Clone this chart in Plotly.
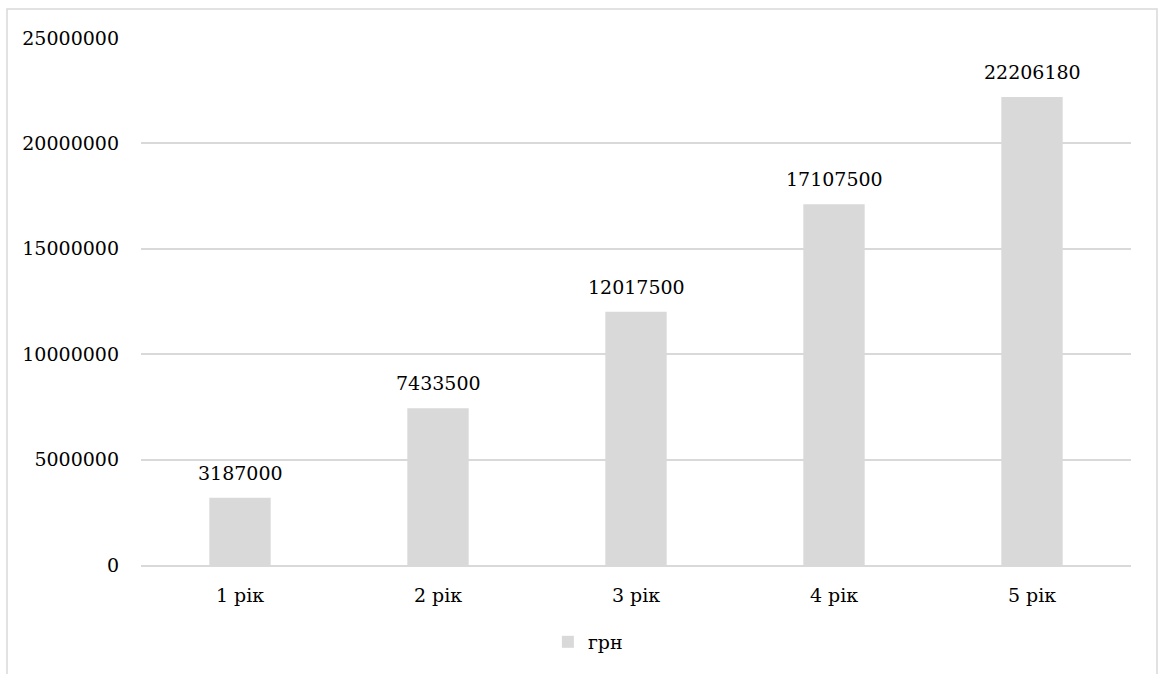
import plotly.graph_objects as go

categories = ["1 рік", "2 рік", "3 рік", "4 рік", "5 рік"]
values = [3187000, 7433500, 12017500, 17107500, 22206180]
series_name = "грн"
y_ticks = [0, 5000000, 10000000, 15000000, 20000000, 25000000]

FONT = "DejaVu Serif"
BAR = "#d9d9d9"
GRID = "#d9d9d9"
FS = 19

fig = go.Figure()
fig.add_trace(go.Bar(
    x=categories, y=values, name=series_name,
    marker=dict(color=BAR, line=dict(width=0)),
    width=0.31,
    showlegend=True,
))

for c, v in zip(categories, values):
    fig.add_annotation(
        x=c, y=v, text=str(v), showarrow=False,
        yanchor="bottom", yshift=12,
        font=dict(family=FONT, size=FS, color="#000000"),
    )

# outer chart frame
fig.add_shape(type="rect", xref="paper", yref="paper",
              x0=-134 / 990, x1=1016 / 990, y0=-130 / 527, y1=(527 + 29) / 527,
              line=dict(color="#d9d9d9", width=1.5), layer="below")

fig.update_layout(
    width=1163, height=674,
    margin=dict(l=141, r=32, t=38, b=109, autoexpand=False),
    paper_bgcolor="white", plot_bgcolor="white",
    font=dict(family=FONT, size=FS, color="#000000"),
    bargap=0.69,
    xaxis=dict(showgrid=False, showline=True, linecolor=GRID, linewidth=1.5,
               automargin=False,
               ticks="", ticklabelstandoff=12, tickfont=dict(family=FONT, size=FS)),
    yaxis=dict(range=[0, 25000000], tickvals=y_ticks,
               ticktext=[str(t) for t in y_ticks], automargin=False,
               showgrid=True, gridcolor=GRID, gridwidth=1.5,
               zeroline=False, showline=False, ticks="",
               ticklabelstandoff=21, tickfont=dict(family=FONT, size=FS)),
    legend=dict(orientation="h", x=0.411, xanchor="left", y=-0.11, yanchor="top",
                font=dict(family=FONT, size=FS), itemwidth=30),
)

fig.write_html("out.html")
